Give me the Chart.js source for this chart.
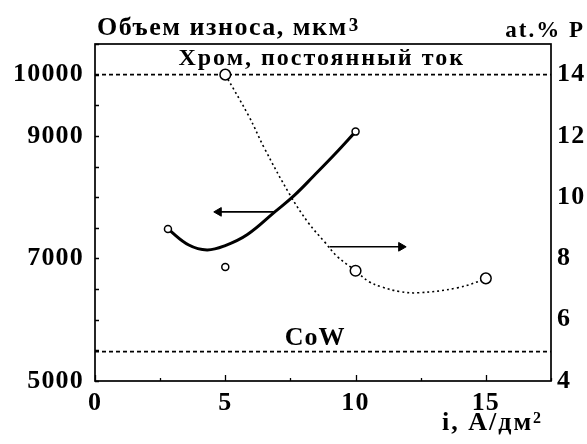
<!DOCTYPE html>
<html>
<head>
<meta charset="utf-8">
<script src="https://cdn.jsdelivr.net/npm/chart.js@4.4.0/dist/chart.umd.min.js"></script>
<style>
  html, body { margin: 0; padding: 0; background: #fff; }
  canvas { display: block; }
</style>
</head>
<body>
<canvas id="c" width="587" height="444"></canvas>
<script>
// Wear volume (left axis, мкм³) vs current density i (А/дм²)
const wearPointI = [2.8, 5, 10];
const wearPointV = [7480, 6860, 9070];
const wearFitI = [2.8, 3.6, 4.3, 5.0, 5.85, 6.9, 7.65, 8.4, 9.2, 10];
const wearFitV = [7480, 7220, 7140, 7210, 7390, 7760, 8030, 8350, 8700, 9070];

// Phosphorus content (right axis, at.% P) vs current density
const pPointI = [5, 10, 15];
const pPointV = [14, 7.6, 7.35];
const pFitI = [5, 5.9, 6.5, 7.5, 8.2, 8.8, 9.3, 10, 10.5, 11, 11.7, 12.4, 13.9, 15];
const pFitV = [14, 12.65, 11.6, 10.05, 9.15, 8.55, 8.06, 7.6, 7.25, 7.07, 6.92, 6.88, 7.04, 7.33];

// Reference wear levels
const chromeWear = 10000;   // Хром, постоянный ток
const cowWear = 5480;       // CoW

// Axis-pointer arrows: [from, to] in i, at a fixed value of the axis they point to
const leftArrowI = [6.9, 4.75];
const leftArrowV = 7760;
const rightArrowI = [9.0, 11.75];
const rightArrowP = 8.38;

// Tick labels
const xTickLabels = [0, 5, 10, 15];
const leftTickLabels = [5000, 7000, 9000, 10000];
const rightTickLabels = [4, 6, 8, 10, 12, 14];

const FONT = "'Liberation Serif', 'Times New Roman', serif";
const BLACK = '#000';

const xy = (xs, ys) => xs.map((x, k) => ({ x, y: Array.isArray(ys) ? ys[k] : ys }));

function drawText(ctx, s, x, y, size, align, spacing) {
  ctx.font = `bold ${size}px ${FONT}`;
  ctx.letterSpacing = spacing + 'px';
  ctx.textAlign = align;
  ctx.textBaseline = 'alphabetic';
  ctx.fillStyle = BLACK;
  ctx.fillText(s, x, y);
  return ctx.measureText(s).width;
}

const framePlugin = {
  id: 'frame',
  beforeDraw(chart) {
    chart.ctx.letterSpacing = '1.2px';
  },
  afterDraw(chart) {
    const { ctx, chartArea: a, scales } = chart;
    ctx.save();
    ctx.strokeStyle = BLACK;
    ctx.lineWidth = 1.7;
    ctx.strokeRect(a.left, a.top, a.right - a.left, a.bottom - a.top);

    // inward tick marks
    ctx.lineWidth = 1.3;
    ctx.beginPath();
    const yl = scales.yL;
    for (let v = yl.min; v <= yl.max; v += 500) {
      const py = Math.round(yl.getPixelForValue(v)) + 0.5;
      ctx.moveTo(a.left, py);
      ctx.lineTo(a.left + 4, py);
    }
    const xs = scales.x;
    for (let v = xs.min; v <= xs.max; v += 2.5) {
      const px = Math.round(xs.getPixelForValue(v)) + 0.5;
      const len = (v % 5 === 0) ? 6 : 3;
      ctx.moveTo(px, a.bottom);
      ctx.lineTo(px, a.bottom - len);
    }
    ctx.stroke();

    // axis titles
    let w = drawText(ctx, 'Объем износа, мкм', 97, 35, 26, 'left', 1.5);
    drawText(ctx, '3', 97 + w + 1, 31, 19, 'left', 0);
    drawText(ctx, 'at.% P', 585, 37, 23, 'right', 2);
    w = drawText(ctx, 'i, А/дм', 442, 430, 26, 'left', 2);
    drawText(ctx, '2', 442 + w, 423, 16, 'left', 0);

    // level labels
    drawText(ctx, 'Хром, постоянный ток', xs.getPixelForValue(8.7), yl.getPixelForValue(chromeWear) - 10, 24, 'center', 2);
    drawText(ctx, 'CoW', xs.getPixelForValue(8.45), yl.getPixelForValue(cowWear) - 7, 26, 'center', 1);
    ctx.restore();
  }
};

const tickFont = { family: FONT, size: 26, weight: 'bold' };

new Chart(document.getElementById('c'), {
  type: 'line',
  data: {
    datasets: [
      { // wear measurements
        data: xy(wearPointI, wearPointV), yAxisID: 'yL', showLine: false,
        pointRadius: 3.5, pointBorderWidth: 1.5, pointBorderColor: BLACK, pointBackgroundColor: '#fff'
      },
      { // phosphorus measurements
        data: xy(pPointI, pPointV), yAxisID: 'yR', showLine: false,
        pointRadius: 5.3, pointBorderWidth: 1.5, pointBorderColor: BLACK, pointBackgroundColor: '#fff'
      },
      { // wear fit curve
        data: xy(wearFitI, wearFitV), yAxisID: 'yL', borderColor: BLACK, borderWidth: 3,
        tension: 0.4, pointRadius: 0
      },
      { // phosphorus fit curve
        data: xy(pFitI, pFitV), yAxisID: 'yR', borderColor: BLACK, borderWidth: 1.6,
        borderDash: [2, 3], tension: 0.4, pointRadius: 0
      },
      { // chromium level
        data: xy([0, 17.5], chromeWear), yAxisID: 'yL', borderColor: BLACK, borderWidth: 1.6,
        borderDash: [4, 3], pointRadius: 0
      },
      { // CoW level
        data: xy([0, 17.5], cowWear), yAxisID: 'yL', borderColor: BLACK, borderWidth: 1.6,
        borderDash: [4, 3], pointRadius: 0
      },
      { // arrow to the left axis
        data: xy(leftArrowI, leftArrowV), yAxisID: 'yL', borderColor: BLACK, borderWidth: 1.6,
        pointRadius: [0, 5], pointStyle: 'triangle', pointRotation: -90,
        pointBackgroundColor: BLACK, pointBorderColor: BLACK, pointBorderWidth: 1
      },
      { // arrow to the right axis
        data: xy(rightArrowI, rightArrowP), yAxisID: 'yR', borderColor: BLACK, borderWidth: 1.6,
        pointRadius: [0, 5], pointStyle: 'triangle', pointRotation: 90,
        pointBackgroundColor: BLACK, pointBorderColor: BLACK, pointBorderWidth: 1
      }
    ]
  },
  options: {
    responsive: false,
    animation: false,
    devicePixelRatio: 1,
    layout: { padding: { top: 44, left: 0, right: 0, bottom: 0 } },
    plugins: { legend: { display: false }, tooltip: { enabled: false } },
    scales: {
      x: {
        type: 'linear', min: 0, max: 17.5,
        grid: { display: false, drawTicks: false }, border: { display: false },
        ticks: { padding: 7, font: tickFont, color: BLACK, callback: v => String(v) },
        afterBuildTicks: s => { s.ticks = xTickLabels.map(v => ({ value: v })); },
        afterFit: s => { s.height = 63; }
      },
      yL: {
        type: 'linear', position: 'left', min: 5000, max: 10500,
        grid: { display: false, drawTicks: false }, border: { display: false },
        ticks: { padding: 11, font: tickFont, color: BLACK, callback: v => String(v) },
        afterBuildTicks: s => { s.ticks = leftTickLabels.map(v => ({ value: v })); },
        afterFit: s => { s.width = 95; }
      },
      yR: {
        type: 'linear', position: 'right', min: 4, max: 15,
        grid: { display: false, drawTicks: false }, border: { display: false },
        ticks: { padding: 6, font: tickFont, color: BLACK, callback: v => String(v) },
        afterBuildTicks: s => { s.ticks = rightTickLabels.map(v => ({ value: v })); },
        afterFit: s => { s.width = 36; }
      }
    }
  },
  plugins: [framePlugin]
});
</script>
</body>
</html>
